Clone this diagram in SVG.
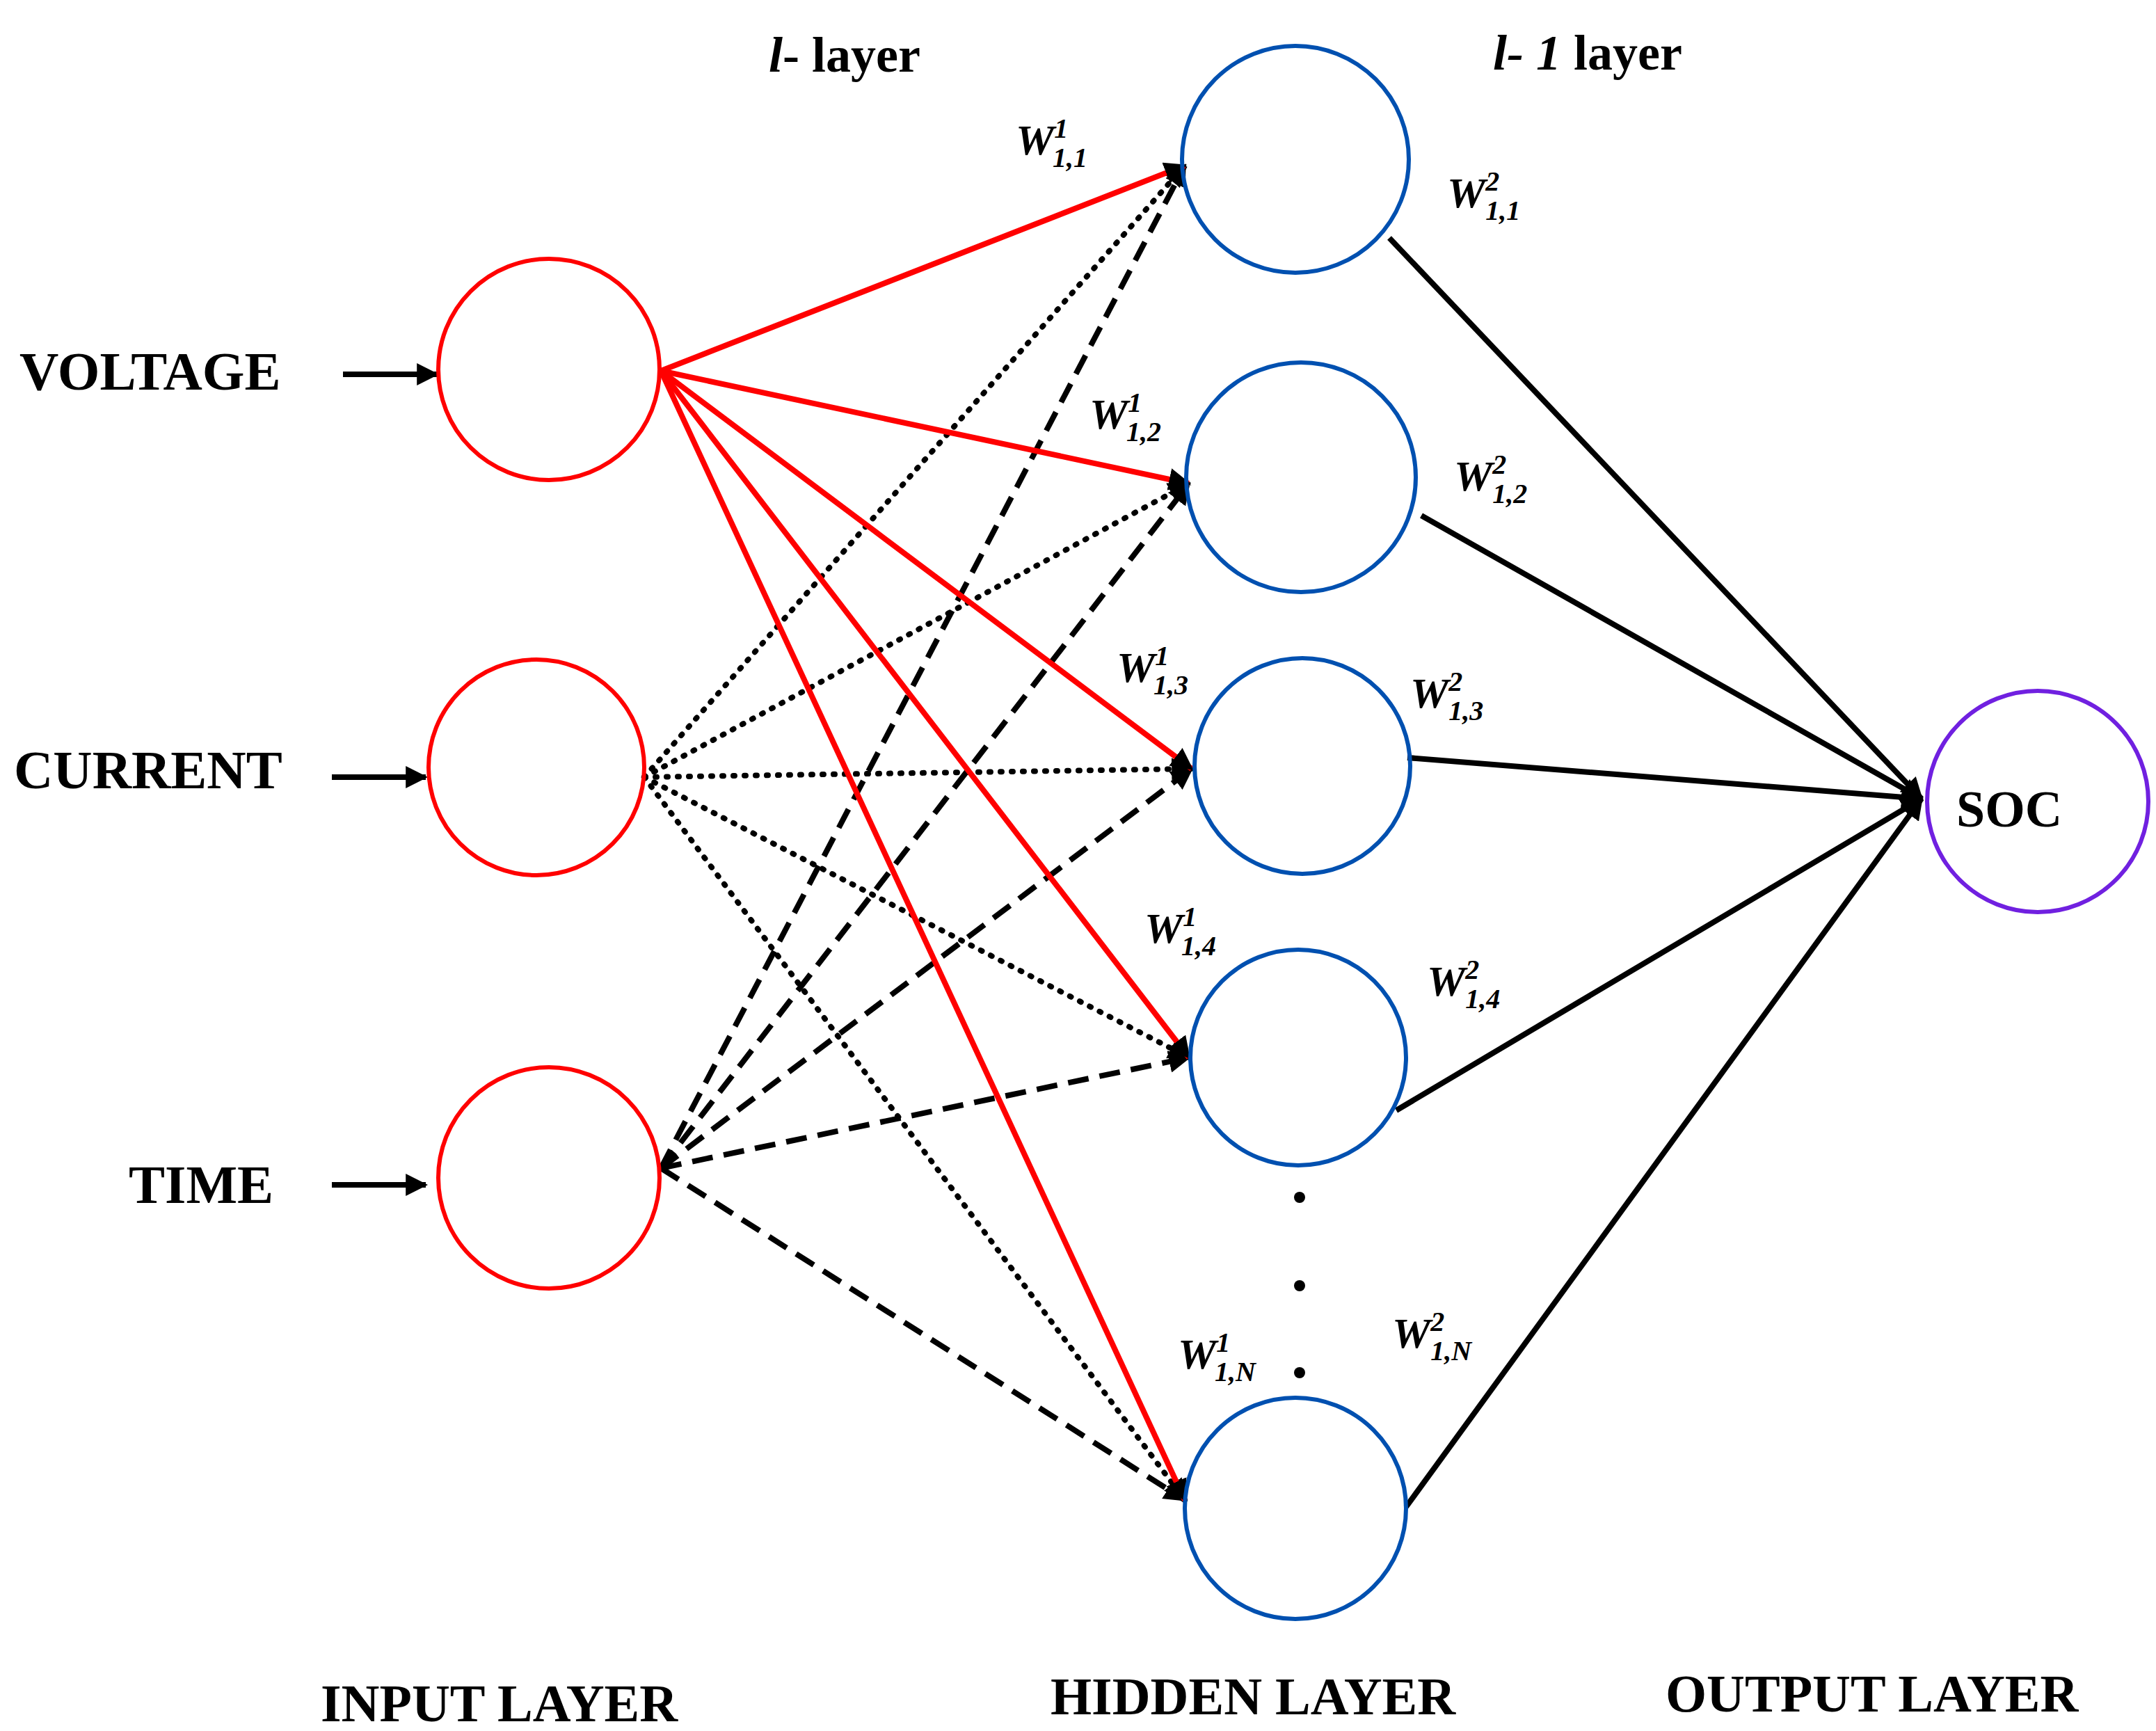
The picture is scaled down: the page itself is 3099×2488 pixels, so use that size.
<svg xmlns="http://www.w3.org/2000/svg" width="3099" height="2488" viewBox="0 0 3099 2488">
<style>
.t{font-family:"Liberation Serif",serif;font-weight:bold;fill:#000}
.w{font-family:"Liberation Serif",serif;font-weight:bold;font-style:italic;fill:#000}
.in{fill:none;stroke:#f00;stroke-width:6}
.hid{fill:none;stroke:#0050b0;stroke-width:6}
.r{stroke:#f00;stroke-width:8;fill:none}
.d{stroke:#000;stroke-width:8;stroke-dasharray:2 14;stroke-linecap:round;fill:none}
.da{stroke:#000;stroke-width:8;stroke-dasharray:30 16;fill:none}
.k{stroke:#000;stroke-width:8;fill:none}
</style>
<defs>
<marker id="a" viewBox="0 0 10 10" refX="9" refY="5" markerWidth="4" markerHeight="4" orient="auto" markerUnits="strokeWidth"><path d="M0,0L10,5L0,10z" fill="#000"/></marker>
</defs>
<rect width="3099" height="2488" fill="#fff"/>
<g id="connectors">
<line class="k" x1="493" y1="538" x2="628" y2="538" stroke-width="10" marker-end="url(#a)"/>
<line class="k" x1="477" y1="1117" x2="612" y2="1117" stroke-width="10" marker-end="url(#a)"/>
<line class="k" x1="477" y1="1703" x2="612" y2="1703" stroke-width="10" marker-end="url(#a)"/>
<g>
<line class="d" x1="926" y1="1117" x2="1703" y2="238" marker-end="url(#a)"/>
<line class="d" x1="926" y1="1117" x2="1709" y2="695" marker-end="url(#a)"/>
<line class="d" x1="926" y1="1117" x2="1713" y2="1105" marker-end="url(#a)"/>
<line class="d" x1="926" y1="1117" x2="1709" y2="1520" marker-end="url(#a)"/>
<line class="d" x1="926" y1="1117" x2="1703" y2="2156" marker-end="url(#a)"/>
<line class="da" x1="950" y1="1679" x2="1703" y2="238" marker-end="url(#a)"/>
<line class="da" x1="950" y1="1679" x2="1709" y2="695" marker-end="url(#a)"/>
<line class="da" x1="950" y1="1679" x2="1713" y2="1105" marker-end="url(#a)"/>
<line class="da" x1="950" y1="1679" x2="1709" y2="1520" marker-end="url(#a)"/>
<line class="da" x1="950" y1="1679" x2="1703" y2="2156" marker-end="url(#a)"/>
<line class="r" x1="950" y1="533" x2="1703" y2="238" marker-end="url(#a)"/>
<line class="r" x1="950" y1="533" x2="1709" y2="695" marker-end="url(#a)"/>
<line class="r" x1="950" y1="533" x2="1713" y2="1105" marker-end="url(#a)"/>
<line class="r" x1="950" y1="533" x2="1709" y2="1520" marker-end="url(#a)"/>
<line class="r" x1="950" y1="533" x2="1703" y2="2156" marker-end="url(#a)"/>
</g>
<line class="k" x1="1997" y1="342" x2="2762" y2="1148" marker-end="url(#a)"/>
<line class="k" x1="2043" y1="741" x2="2762" y2="1148" marker-end="url(#a)"/>
<line class="k" x1="2023" y1="1089" x2="2762" y2="1148" marker-end="url(#a)"/>
<line class="k" x1="2007" y1="1596" x2="2762" y2="1148" marker-end="url(#a)"/>
<line class="k" x1="2021" y1="2166" x2="2762" y2="1148" marker-end="url(#a)"/>
</g>
<g id="in1"><circle class="in" cx="789" cy="531" r="159"/></g>
<g id="in2"><circle class="in" cx="771" cy="1103" r="155"/></g>
<g id="in3"><circle class="in" cx="789" cy="1693" r="159"/></g>
<g id="h1"><circle class="hid" cx="1862" cy="229" r="163"/></g>
<g id="h2"><circle class="hid" cx="1870" cy="686" r="165"/></g>
<g id="h3"><circle class="hid" cx="1872" cy="1101" r="155"/></g>
<g id="h4"><circle class="hid" cx="1866" cy="1520" r="155"/></g>
<g id="h5"><circle class="hid" cx="1862" cy="2168" r="159"/></g>
<g id="soc"><circle cx="2929" cy="1152" r="159" fill="none" stroke="#7020e0" stroke-width="6"/><text class="t" x="2812" y="1188" font-size="74">SOC</text></g>
<g fill="#000"><circle cx="1868" cy="1721" r="8"/><circle cx="1868" cy="1848" r="8"/><circle cx="1868" cy="1973" r="8"/></g>
<g id="labels">
<text class="t" x="28" y="560" font-size="78">VOLTAGE</text>
<text class="t" x="20" y="1133" font-size="78">CURRENT</text>
<text class="t" x="185" y="1729" font-size="78">TIME</text>
<text class="t" x="461" y="2474" font-size="76">INPUT LAYER</text>
<text class="t" x="1510" y="2464" font-size="76">HIDDEN LAYER</text>
<text class="t" x="2394" y="2460" font-size="76">OUTPUT LAYER</text>
<text class="t" x="1105" y="103" font-size="72"><tspan font-style="italic">l</tspan>- layer</text>
<text class="t" x="2146" y="100" font-size="72"><tspan font-style="italic">l- 1</tspan> layer</text>
</g>
<g id="weights" font-size="62">
<text class="w" x="1460" y="222">W<tspan font-size="40" dy="-24">1</tspan><tspan font-size="40" dx="-20" dy="42">1,1</tspan></text>
<text class="w" x="1566" y="616">W<tspan font-size="40" dy="-24">1</tspan><tspan font-size="40" dx="-20" dy="42">1,2</tspan></text>
<text class="w" x="1605" y="980">W<tspan font-size="40" dy="-24">1</tspan><tspan font-size="40" dx="-20" dy="42">1,3</tspan></text>
<text class="w" x="1645" y="1355">W<tspan font-size="40" dy="-24">1</tspan><tspan font-size="40" dx="-20" dy="42">1,4</tspan></text>
<text class="w" x="1693" y="1967">W<tspan font-size="40" dy="-24">1</tspan><tspan font-size="40" dx="-20" dy="42">1,N</tspan></text>
<text class="w" x="2080" y="298">W<tspan font-size="40" dy="-24">2</tspan><tspan font-size="40" dx="-20" dy="42">1,1</tspan></text>
<text class="w" x="2090" y="705">W<tspan font-size="40" dy="-24">2</tspan><tspan font-size="40" dx="-20" dy="42">1,2</tspan></text>
<text class="w" x="2027" y="1017">W<tspan font-size="40" dy="-24">2</tspan><tspan font-size="40" dx="-20" dy="42">1,3</tspan></text>
<text class="w" x="2051" y="1431">W<tspan font-size="40" dy="-24">2</tspan><tspan font-size="40" dx="-20" dy="42">1,4</tspan></text>
<text class="w" x="2001" y="1937">W<tspan font-size="40" dy="-24">2</tspan><tspan font-size="40" dx="-20" dy="42">1,N</tspan></text>
</g>
</svg>
